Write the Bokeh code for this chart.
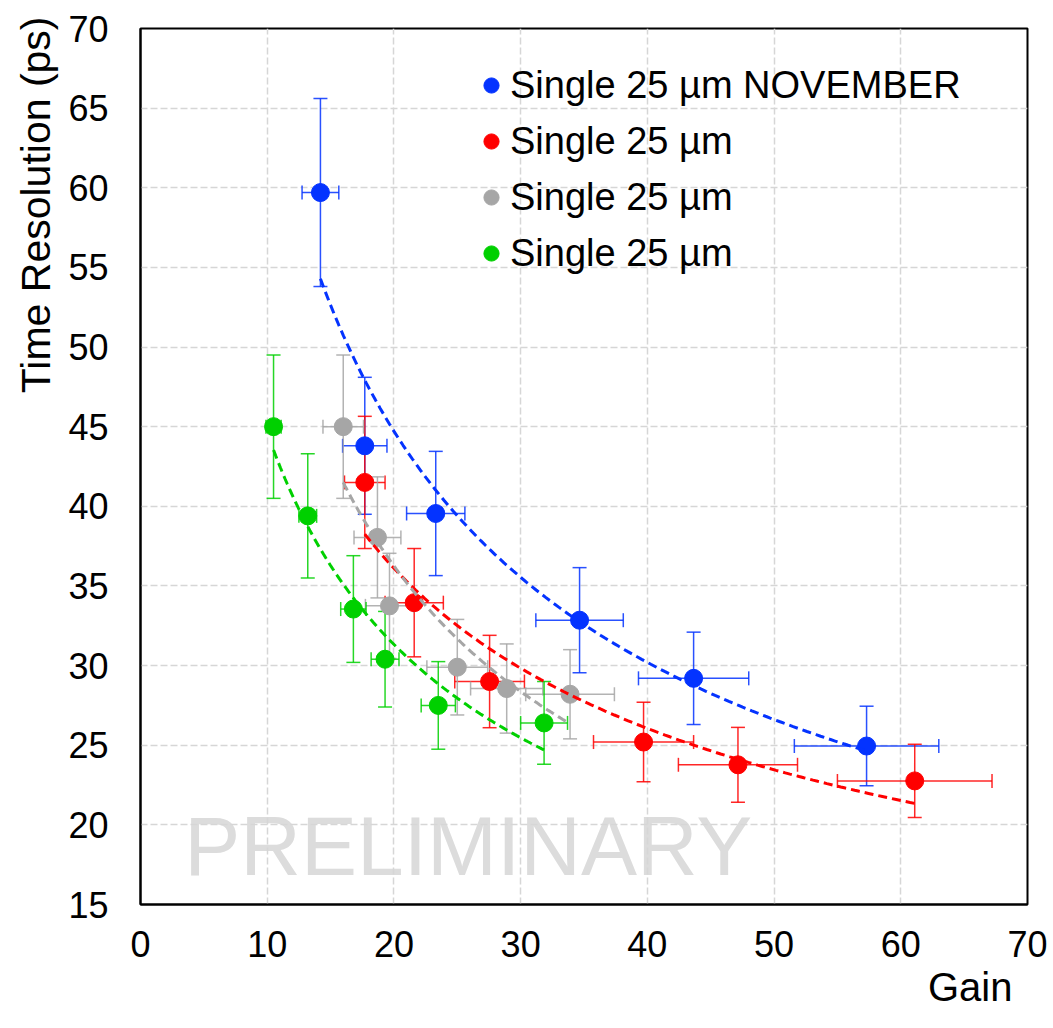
import numpy as np
from bokeh.plotting import figure
from bokeh.models import (ColumnDataSource, Whisker, TeeHead, Legend, LegendItem,
                          Label, Title, FixedTicker, Range1d)
from bokeh.embed import file_html
from bokeh.resources import INLINE

# ---------------- data ----------------
blue_x = [14.2, 17.7, 23.3, 34.65, 43.65, 57.3]
blue_y = [59.7, 43.8, 39.55, 32.85, 29.2, 24.95]
blue_xerr = [1.45, 1.75, 2.3, 3.45, 4.35, 5.7]
blue_yerr = [5.9, 4.3, 3.9, 3.3, 2.9, 2.5]

red_x = [17.7, 21.6, 27.55, 39.7, 47.15, 61.1]
red_y = [41.5, 33.95, 29.0, 25.2, 23.77, 22.76]
red_xerr = [1.6, 2.3, 2.75, 3.95, 4.7, 6.1]
red_yerr = [4.15, 3.4, 2.9, 2.5, 2.35, 2.3]

gray_x = [16.0, 18.7, 19.65, 25.0, 28.9, 33.9]
gray_y = [45.0, 38.05, 33.75, 29.9, 28.56, 28.2]
gray_xerr = [1.6, 1.85, 1.9, 2.4, 2.85, 3.5]
gray_yerr = [4.5, 3.8, 3.3, 3.0, 2.8, 2.8]

green_x = [10.5, 13.2, 16.8, 19.3, 23.5, 31.85]
green_y = [45.0, 39.4, 33.55, 30.4, 27.5, 26.4]
green_xerr = [0.6, 0.7, 1.0, 1.1, 1.35, 1.85]
green_yerr = [4.5, 3.9, 3.35, 3.0, 2.75, 2.6]

labels = ["Single 25 µm NOVEMBER", "Single 25 µm", "Single 25 µm", "Single 25 µm"]
colors = ["#0433FF", "#FF0000", "#A6A6A6", "#00D000"]
x_ticks = [0, 10, 20, 30, 40, 50, 60, 70]
y_ticks = [15, 20, 25, 30, 35, 40, 45, 50, 55, 60, 65, 70]

series = [
    (blue_x, blue_y, blue_xerr, blue_yerr),
    (red_x, red_y, red_xerr, red_yerr),
    (gray_x, gray_y, gray_xerr, gray_yerr),
    (green_x, green_y, green_xerr, green_yerr),
]

FONT = "Liberation Sans"

p = figure(width=1053, height=1028, output_backend="svg", toolbar_location=None,
           x_range=Range1d(0, 70), y_range=Range1d(15, 70),
           min_border_left=140, min_border_right=26, min_border_top=28,
           min_border_bottom=124)

p.outline_line_color = "black"
p.outline_line_width = 2
p.background_fill_color = "white"
p.border_fill_color = "white"

for g in (p.xgrid[0], p.ygrid[0]):
    g.grid_line_color = "#D6D6D6"
    g.grid_line_width = 1.5
    g.grid_line_dash = "7 3"

p.xaxis.ticker = FixedTicker(ticks=x_ticks)
p.yaxis.ticker = FixedTicker(ticks=y_ticks)
for ax in (p.xaxis[0], p.yaxis[0]):
    ax.axis_line_color = "black"
    ax.axis_line_width = 2
    ax.major_tick_line_color = None
    ax.minor_tick_line_color = None
    ax.major_tick_out = 0
    ax.major_tick_in = 0
    ax.major_label_text_font = FONT
    ax.major_label_text_font_size = "36px"
    ax.major_label_text_color = "black"
p.xaxis.major_label_standoff = 26
p.yaxis.major_label_standoff = 32

# watermark
wm = Label(x=3.45, y=18.65, text="PRELIMINARY", text_font=FONT, text_font_size="84px",
           text_color="#DCDCDC", text_baseline="alphabetic", level="image")
p.add_layout(wm)

legend_items = []
for (xs, ys, xe, ye), col, lab in zip(series, colors, labels):
    xs = np.array(xs); ys = np.array(ys); xe = np.array(xe); ye = np.array(ye)
    src = ColumnDataSource(dict(x=xs, y=ys, ylo=ys - ye, yhi=ys + ye,
                                xlo=xs - xe, xhi=xs + xe))
    wy = Whisker(base="x", lower="ylo", upper="yhi", source=src, dimension="height",
                 line_color=col, line_width=1.5, line_alpha=0.85,
                 upper_head=TeeHead(size=14, line_color=col, line_width=1.5, line_alpha=0.85),
                 lower_head=TeeHead(size=14, line_color=col, line_width=1.5, line_alpha=0.85))
    wx = Whisker(base="y", lower="xlo", upper="xhi", source=src, dimension="width",
                 line_color=col, line_width=1.5, line_alpha=0.85,
                 upper_head=TeeHead(size=14, line_color=col, line_width=1.5, line_alpha=0.85),
                 lower_head=TeeHead(size=14, line_color=col, line_width=1.5, line_alpha=0.85))
    p.add_layout(wy)
    p.add_layout(wx)
    r = p.scatter("x", "y", source=src, marker="circle", size=18,
                  fill_color=col, line_color=col)
    legend_items.append(LegendItem(label=lab, renderers=[r]))

# power-law trendlines (least squares in log-log, like a spreadsheet trendline)
for (xs, ys, xe, ye), col in zip(series, colors):
    b, a = np.polyfit(np.log(xs), np.log(ys), 1)
    fx = np.linspace(min(xs), max(xs), 120)
    fy = np.exp(a) * fx ** b
    p.line(fx, fy, line_color=col, line_width=3, line_dash="9 5")

legend = Legend(items=legend_items, location=(332, 623), orientation="vertical",
                border_line_alpha=0, background_fill_alpha=0,
                label_text_font=FONT, label_text_font_size="38px",
                label_text_color="black",
                glyph_width=38, glyph_height=56, label_height=56,
                spacing=0, padding=0, margin=0, label_standoff=0)
p.add_layout(legend)

ytitle = Title(text="Time Resolution (ps)", align="right", text_font=FONT,
               text_font_size="41px", text_font_style="normal", text_color="black",
               standoff=13, offset=-12)
p.add_layout(ytitle, "left")

xtitle = Title(text="Gain", align="right", vertical_align="top", text_font=FONT,
               text_font_size="40px", text_font_style="normal", text_color="black",
               standoff=10, offset=15)
p.add_layout(xtitle, "below")

open("out.html", "w").write(file_html(p, INLINE))
